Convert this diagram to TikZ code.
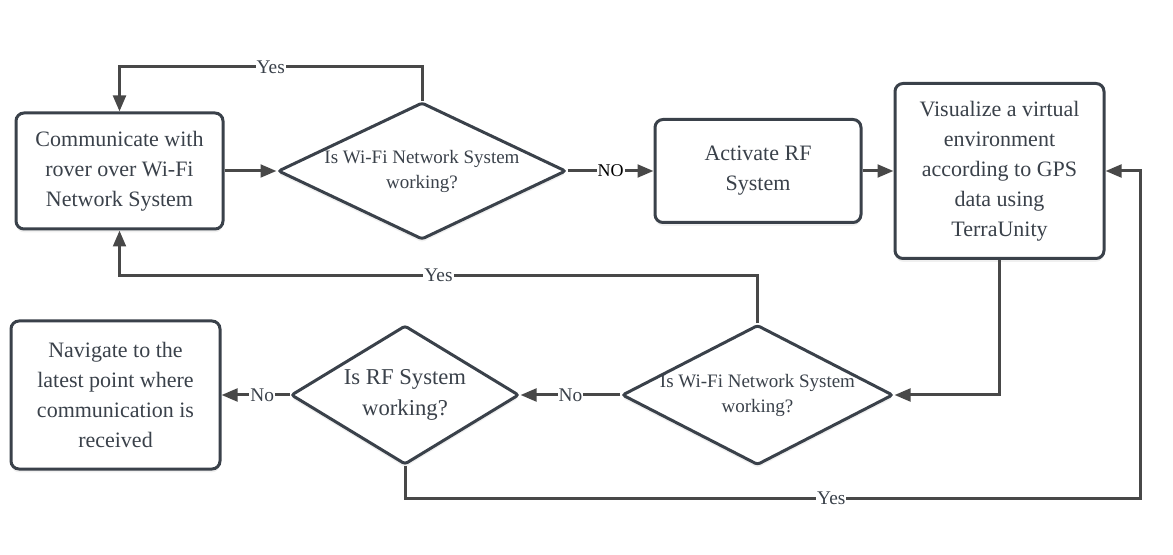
\documentclass[tikz,border=0pt]{standalone}
\usepackage{fontspec}
\setmainfont{Liberation Serif}
\usetikzlibrary{shapes.geometric,arrows.meta,shadows}

\definecolor{boxline}{RGB}{58,65,74}
\definecolor{flowline}{RGB}{72,72,72}

\tikzset{every picture/.style={line width=2.25pt}}
\tikzset{
    box/.style={draw=boxline, fill=white, rounded corners=6pt, align=center, text=boxline, inner sep=0pt,
        font=\fontsize{16.5}{22.5}\selectfont, drop shadow={opacity=0.12, shadow xshift=0pt, shadow yshift=-2.5pt}},
    decision/.style={diamond, draw=boxline, fill=white, rounded corners=2pt, inner sep=0pt,
        drop shadow={opacity=0.12, shadow xshift=0pt, shadow yshift=-2.5pt}},
    dtext/.style={align=center, text=boxline, font=\fontsize{14.25}{18.75}\selectfont},
    flow/.style={draw=flowline, -{Triangle[length=12pt,width=9.5pt]}},
    answer/.style={fill=white, inner sep=0.75pt, text=boxline, font=\fontsize{14.5}{14.5}\selectfont},
}

\begin{document}
\begin{tikzpicture}[x=0.75pt,y=0.75pt,yscale=-1,xscale=1]
        \useasboundingbox (0,0) rectangle (1173,555); %set diagram size as the reference

        %Shape: Rounded Rect
        \draw (119.5,171) node [box, minimum width=155.25pt, minimum height=87pt] (comm) {Communicate with\\rover over Wi-Fi\\Network System};
        %Shape: Diamond
        \draw (422,171) node [decision, minimum width=216pt, minimum height=102.75pt,
            label={[dtext]center:Is Wi-Fi Network System\\working?}] (wifiA) {};
        %Shape: Rounded Rect
        \draw (758,171) node [box, minimum width=154.5pt, minimum height=77.25pt] (rf) {Activate RF\\System};
        %Shape: Rounded Rect
        \draw (999.5,171) node [box, minimum width=156.75pt, minimum height=131.25pt] (vis) {Visualize a virtual\\environment\\according to GPS\\data using\\TerraUnity};

        %Shape: Diamond
        \draw (757.5,395) node [decision, minimum width=203.25pt, minimum height=105pt,
            label={[dtext]center:Is Wi-Fi Network System\\working?}] (wifiB) {};
        %Shape: Diamond
        \draw (405,395) node [decision, minimum width=171pt, minimum height=104.25pt,
            label={[dtext, font=\fontsize{17}{23}\selectfont]center:Is RF System\\working?}] (rfq) {};
        %Shape: Rounded Rect
        \draw (115.5,395) node [box, minimum width=156.75pt, minimum height=111pt] (nav) {Navigate to the\\latest point where\\communication is\\received};

        \coordinate (bend) at (1140,498);

        %Connectors
        \draw [flow] (comm) -- (wifiA);
        \draw [flow] (wifiA.north) -- ++(0,-34) -| node [answer, pos=0.25] (yesA) {Yes} (comm.north);
        \draw [flow] (wifiA) -- node [answer, text=black, font=\fontsize{13.5}{13.5}\selectfont] (noA) {NO} (rf);
        \draw [flow] (rf) -- (vis);
        \draw [flow] (vis.south) |- (wifiB.east);
        \draw [flow] (wifiB.north) -- ++(0,-48) -| node [answer, pos=0.25] (yesB) {Yes} (comm.south);
        \draw [flow] (wifiB) -- node [answer] (noB) {No} (rfq);
        \draw [flow] (rfq) -- node [answer, pos=0.4] (noC) {No} (nav);
        \draw [flow] (rfq.south) |- node [answer, pos=0.79] (yesC) {Yes} (bend) |- (vis.east);

    \end{tikzpicture}
\end{document}
